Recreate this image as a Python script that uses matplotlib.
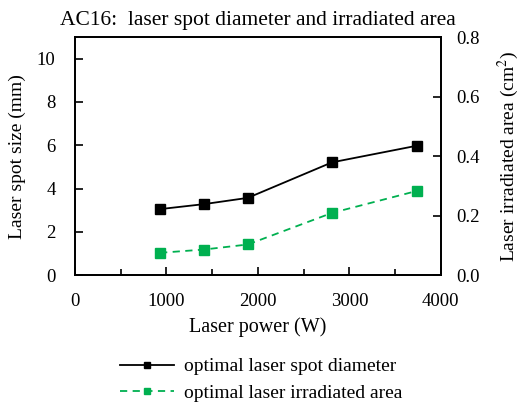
import matplotlib
matplotlib.use("Agg")
import matplotlib.pyplot as plt
from matplotlib.ticker import MultipleLocator

plt.rcParams['font.family'] = ['Liberation Serif', 'DejaVu Serif']
plt.rcParams['mathtext.fontset'] = 'stix'

# Данные AC16
laser_power = [930, 1410, 1890, 2810, 3740]          # W
spot_diameter = [3.05, 3.28, 3.57, 5.21, 5.98]       # mm
irradiated_area = [0.075, 0.086, 0.103, 0.209, 0.283]  # cm^2

green = '#00b050'

fig = plt.figure(figsize=(5.21, 4.07), dpi=100)
ax = fig.add_axes([0.144, 0.324, 0.702, 0.585])
ax2 = ax.twinx()

l1, = ax.plot(laser_power, spot_diameter, color='black', lw=1.3,
              marker='s', markersize=6.5, label='optimal laser spot diameter')
l2, = ax2.plot(laser_power, irradiated_area, color=green, lw=1.3, ls=(0, (4, 3)),
               marker='s', markersize=6.5, label='optimal laser irradiated area')

ax.set_xlim(0, 4000)
ax.set_ylim(0, 11)
ax2.set_ylim(0, 0.8)
ax.xaxis.set_major_locator(MultipleLocator(1000))
ax.xaxis.set_minor_locator(MultipleLocator(500))
ax.yaxis.set_major_locator(MultipleLocator(2))
ax2.yaxis.set_major_locator(MultipleLocator(0.2))
ax2.yaxis.set_major_formatter(plt.FormatStrFormatter('%.1f'))

ax.tick_params(axis='both', which='major', direction='in', length=6, width=1.2,
               labelsize=13.5, top=False)
ax.tick_params(axis='x', which='minor', direction='in', length=4, width=1.2, top=False)
ax.tick_params(axis='x', which='major', pad=13)
ax.tick_params(axis='y', pad=14)
ax2.tick_params(axis='y', direction='in', length=6, width=1.2, labelsize=13.5, pad=11)

for a in (ax, ax2):
    for s in a.spines.values():
        s.set_linewidth(1.3)

ax.set_xlabel('Laser power (W)', fontsize=14.5, labelpad=5)
ax.set_ylabel('Laser spot size (mm)', fontsize=14, labelpad=8)
ax2.set_ylabel('Laser irradiated area (cm$^2$)', fontsize=14, labelpad=12)
ax.set_title('AC16:  laser spot diameter and irradiated area', fontsize=15.5, pad=9)

fig.legend(handles=[l1, l2], loc='upper left', bbox_to_anchor=(0.215, 0.14),
           frameon=False, fontsize=14, handlelength=2.8, handletextpad=0.5,
           labelspacing=0.45, markerscale=0.75, borderaxespad=0)

fig.savefig('out.png', dpi=100)
